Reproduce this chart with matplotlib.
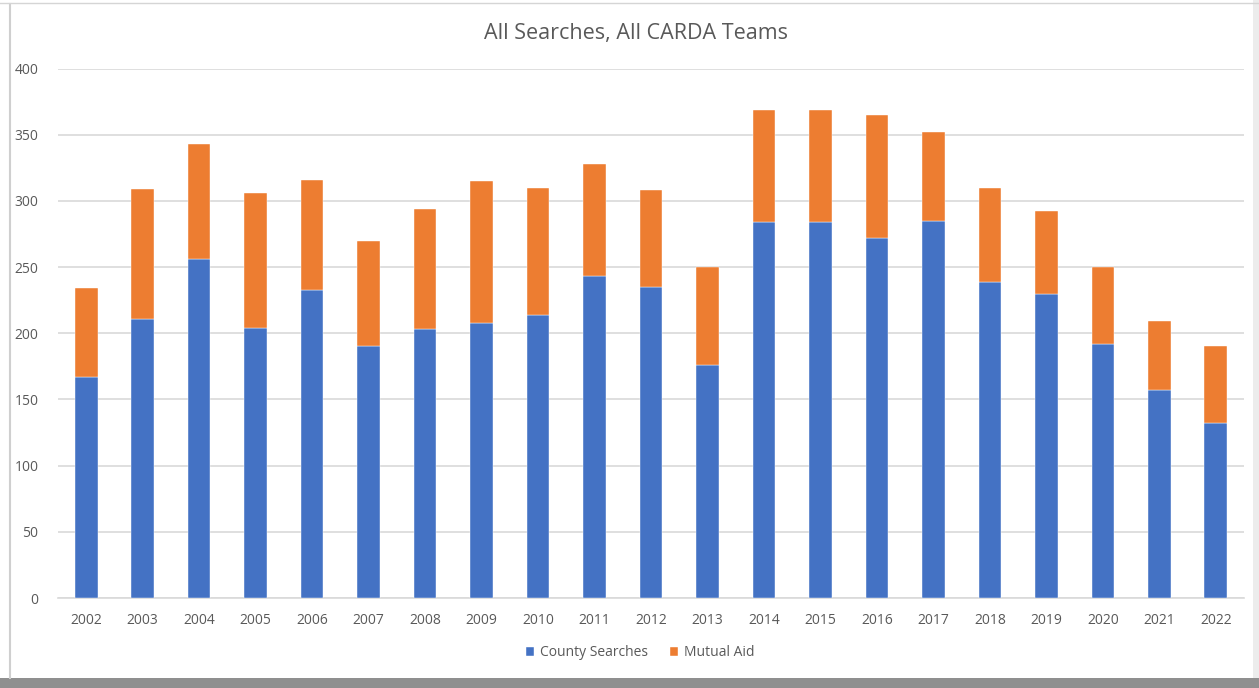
"""
Stacked bar chart: All Searches, All CARDA Teams.
"""
import matplotlib
matplotlib.use('Agg')
import matplotlib.pyplot as plt
from matplotlib.patches import Rectangle
from matplotlib.lines import Line2D
import numpy as np

years = ['2002', '2003', '2004', '2005', '2006', '2007', '2008', '2009', '2010',
         '2011', '2012', '2013', '2014', '2015', '2016', '2017', '2018', '2019',
         '2020', '2021', '2022']
county_searches = [167, 211, 256, 204, 233, 190, 203, 208, 214, 243, 235, 176,
                   284, 284, 272, 285, 239, 230, 192, 157, 132]
totals = [234, 309, 343, 306, 316, 270, 294, 315, 310, 328, 308, 250,
          369, 369, 365, 352, 310, 292, 250, 209, 190]
mutual_aid = [t - c for t, c in zip(totals, county_searches)]

BLUE = '#4472C4'
ORANGE = '#ED7D31'
TEXT = '#595959'
GRID = '#D9D9D9'

plt.rcParams['font.family'] = ['Open Sans', 'DejaVu Sans']

W, H = 1259, 688
fig = plt.figure(figsize=(W / 100, H / 100), dpi=100)
fig.patch.set_facecolor('white')

# card frame / shadow of the screenshot
fig.patches.append(Rectangle((0, 0), 1, 10 / H, transform=fig.transFigure,
                             facecolor='#8f8f8f', edgecolor='none', zorder=0))
fig.patches.append(Rectangle((1253 / W, 10 / H), 6 / W, 1, transform=fig.transFigure,
                             facecolor='#ececec', edgecolor='none', zorder=0))
fig.lines.append(Line2D([10 / W, 10 / W], [10 / H, 1 - 4 / H], transform=fig.transFigure,
                        color='#cfcfcf', linewidth=1.5))
fig.lines.append(Line2D([0, 1], [1 - 2.5 / H, 1 - 2.5 / H], transform=fig.transFigure,
                        color='#d5d5d5', linewidth=1))

ax = fig.add_axes([58 / W, 1 - 598 / H, (1244 - 58) / W, (598 - 68.5) / H])

x = np.arange(len(years))
ax.bar(x, county_searches, width=0.4, color=BLUE, label='County Searches',
       edgecolor='white', linewidth=0.3, zorder=3)
ax.bar(x, mutual_aid, width=0.4, bottom=county_searches, color=ORANGE,
       label='Mutual Aid', edgecolor='white', linewidth=0.3, zorder=3)

ax.set_xlim(-0.5, len(years) - 0.5)
ax.set_ylim(0, 400)
ax.set_yticks(range(0, 401, 50))
ax.set_xticks(x)
ax.set_xticklabels(years)
ax.yaxis.grid(True, color=GRID, linewidth=1.2, zorder=0)
ax.set_axisbelow(True)
for side in ['top', 'right', 'left']:
    ax.spines[side].set_visible(False)
ax.spines['bottom'].set_color(GRID)
ax.spines['bottom'].set_linewidth(1.2)
ax.tick_params(axis='both', length=0, colors=TEXT, labelsize=10)
ax.tick_params(axis='y', pad=14)
ax.tick_params(axis='x', pad=11)

fig.text(636 / W, 1 - 33 / H, 'All Searches, All CARDA Teams', ha='center',
         va='center', fontsize=15.5, color=TEXT)

leg = fig.legend(loc='center', bbox_to_anchor=(640 / W, 1 - 653 / H), ncol=2,
                 frameon=False, fontsize=10, handlelength=0.6, handleheight=0.6,
                 handletextpad=0.4, columnspacing=1.6)
for t in leg.get_texts():
    t.set_color(TEXT)

plt.savefig('out.png', dpi=100)
plt.close()
